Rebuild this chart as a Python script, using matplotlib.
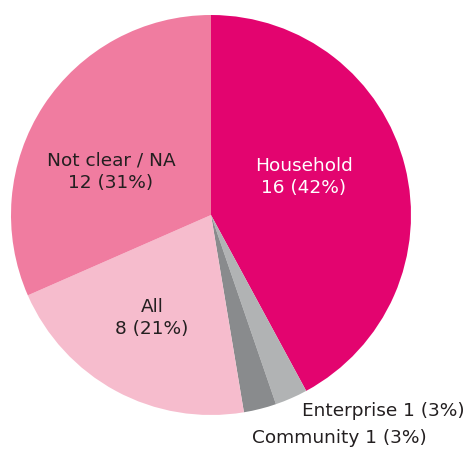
import matplotlib.pyplot as plt

labels = ['Household', 'Enterprise', 'Community', 'All', 'Not clear / NA']
counts = [16, 1, 1, 8, 12]
pcts = [42, 3, 3, 21, 31]
colors = ['#E3046F', '#B1B3B4', '#898B8D', '#F6BCCD', '#F07CA0']

plt.rcParams['font.family'] = ['DejaVu Sans']

fig = plt.figure(figsize=(4.72, 4.49), dpi=100)
ax = fig.add_axes([11 / 472, 34 / 449, 400 / 472, 400 / 449])

ax.pie(counts, colors=colors, startangle=90, counterclock=False, radius=1,
       wedgeprops={'linewidth': 0})
ax.set_xlim(-1, 1)
ax.set_ylim(-1, 1)
ax.axis('off')

txt = ['%s\n%d (%d%%)' % (l, c, p) for l, c, p in zip(labels, counts, pcts)]
fs = 13.3
ls = 1.32
dark = '#231F20'
ax.text(0.465, 0.19, txt[0], color='white', ha='center', va='center', fontsize=fs, linespacing=ls)
ax.text(-0.5, 0.215, txt[4], color=dark, ha='center', va='center', fontsize=fs, linespacing=ls)
ax.text(-0.295, -0.515, txt[3], color=dark, ha='center', va='center', fontsize=fs, linespacing=ls)
ax.text(1.27, -0.98, '%s %d (%d%%)' % (labels[1], counts[1], pcts[1]), color=dark,
        ha='right', va='center', fontsize=fs)
ax.text(0.64, -1.115, '%s %d (%d%%)' % (labels[2], counts[2], pcts[2]), color=dark,
        ha='center', va='center', fontsize=fs)

fig.savefig('out.png', dpi=100)
